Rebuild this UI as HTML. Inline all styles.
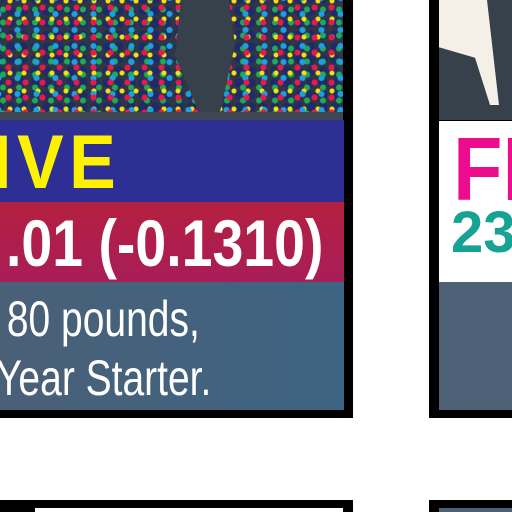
<!DOCTYPE html>
<html><head><meta charset="utf-8"><style>
body{margin:0;width:512px;height:512px;background:#fff;position:relative;overflow:hidden;font-family:"Liberation Sans",sans-serif}
div{position:absolute}
.dots{background-color:#2f3645;
background-image:radial-gradient(circle,#e8194f 2.5px,transparent 3.5px),radial-gradient(circle,#1da0e0 2.5px,transparent 3.5px),radial-gradient(circle,#f5e20c 2px,transparent 3px),radial-gradient(circle,#1faa55 2.5px,transparent 3.5px),radial-gradient(circle,#1e2a6a 4px,transparent 5px);
background-size:17px 15px,19px 16px,14px 18px,16px 13px,12px 12px;
background-position:0 0,8px 6px,3px 10px,11px 3px,5px 5px}
.sq{transform-origin:0 0;white-space:nowrap}
</style></head><body>
<div style="left:0;top:0;width:353px;height:418px;background:#000;overflow:hidden">
 <div class="dots" style="left:0;top:0;width:343px;height:112px"></div>
 <div style="left:175px;top:0;width:60px;height:112px;background:#36414c;clip-path:polygon(10% 0,90% 0,100% 40%,75% 100%,40% 100%,0 50%)"></div>
 <div style="left:0;top:112px;width:343px;height:8px;background:#3d4652"></div>
 <div style="left:0;top:120px;width:344px;height:82px;background:#2e2f94"></div>
 <div class="sq" style="left:-8px;top:120px;font-size:76px;font-weight:bold;color:#fff200;letter-spacing:6px;line-height:86px;transform:scaleX(0.92)">IVE</div>
 <div style="left:0;top:202px;width:344px;height:80px;background:linear-gradient(#b5203f,#a81d58)"></div>
 <div class="sq" style="left:6px;top:205px;font-size:66px;font-weight:bold;color:#fff;line-height:76px;transform:scaleX(0.84)">.01 (-0.1310)</div>
 <div style="left:0;top:282px;width:344px;height:128px;background:linear-gradient(90deg,#4a6077,#3d6483)"></div>
 <div class="sq" style="left:-4px;top:290px;font-size:50px;color:#fff;line-height:59px;transform:scaleX(0.78)">&nbsp;80 pounds,<br>Year Starter.</div>
</div>
<div style="left:429px;top:0;width:83px;height:418px;background:#000;overflow:hidden">
 <div style="left:10px;top:0;width:73px;height:120px;background:#36414c"></div>
 <div style="left:10px;top:0;width:60px;height:105px;background:#f4f0e8;clip-path:polygon(0 0,80% 0,100% 100%,85% 100%,60% 55%,0 45%)"></div>
 <div style="left:10px;top:121px;width:73px;height:161px;background:#fff"></div>
 <div class="sq" style="left:24px;top:125px;font-size:90px;font-weight:bold;color:#ec0c8c;line-height:90px;transform:scaleX(0.9)">FE</div>
 <div class="sq" style="left:22px;top:204px;font-size:58px;font-weight:bold;color:#16a395;line-height:58px">23</div>
 <div style="left:10px;top:282px;width:73px;height:128px;background:#4e6076"></div>
</div>
<div style="left:0;top:500px;width:353px;height:12px;background:#000;overflow:hidden">
 <div style="left:35px;top:8px;width:308px;height:4px;background:#fff"></div>
</div>
<div style="left:429px;top:500px;width:83px;height:12px;background:#000;overflow:hidden">
 <div style="left:10px;top:8px;width:73px;height:4px;background:#4e6076"></div>
</div>
</body></html>
